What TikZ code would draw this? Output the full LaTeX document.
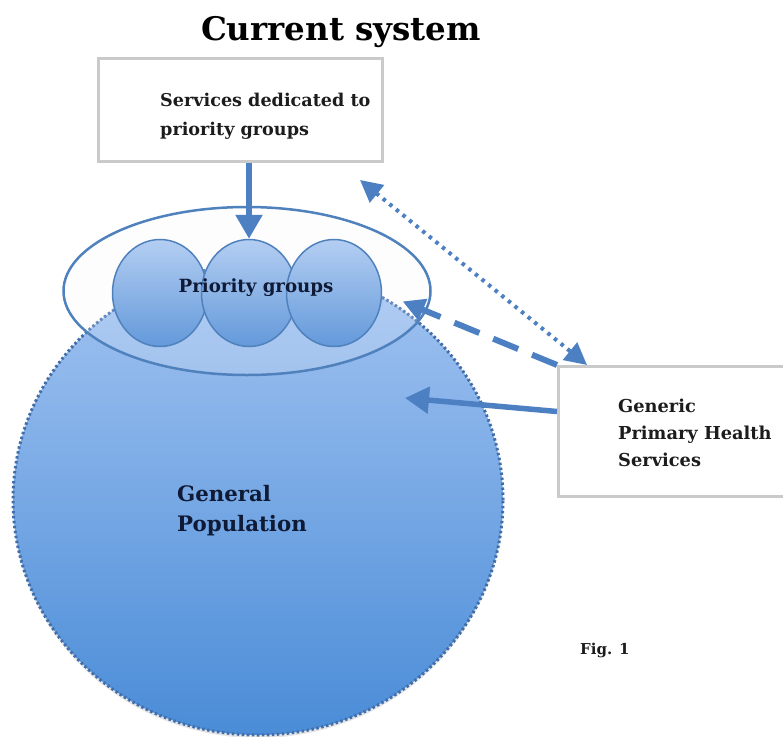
\documentclass[tikz,border=0pt]{standalone}
\usepackage{fontspec}
\setmainfont{DejaVu Serif}
\usepackage{tikz}
\usetikzlibrary{arrows.meta,shapes.geometric,shadows}
\usepackage{xcolor}
\definecolor{lineblue}{HTML}{4F81BD}
\definecolor{arrowblue}{HTML}{4C80C2}
\definecolor{boxgray}{HTML}{CACACA}
\definecolor{grptop}{HTML}{B4CEF2}
\definecolor{grpbot}{HTML}{6399DA}
\definecolor{poptop}{HTML}{A3C4F2}
\definecolor{popbot}{HTML}{4A8CD7}
\definecolor{popedge}{HTML}{416EAA}
\definecolor{ringfill}{HTML}{F4F6FA}
\definecolor{navy}{HTML}{0E1A36}
\definecolor{textdark}{HTML}{1C1C1C}

\begin{document}
\begin{tikzpicture}[x=1pt, y=-1pt,
    box/.style={rectangle, draw=boxgray, line width=3pt, fill=white, anchor=north west, inner sep=0pt,
      drop shadow={shadow xshift=1pt, shadow yshift=-1.5pt, opacity=0.18}},
    grp/.style={ellipse, draw=lineblue, line width=1.5pt, top color=grptop, bottom color=grpbot,
      minimum width=95pt, minimum height=107pt, inner sep=0pt},
    txt/.style={font=\fontsize{17.6}{29}\selectfont\bfseries, text=textdark, align=left, inner sep=0pt},
    arr/.style={draw=arrowblue, line width=5.5pt, -{Triangle[length=24pt,width=26pt]}},
    dasharr/.style={draw=arrowblue, line width=6pt, dash pattern=on 27pt off 15pt, -{Triangle[length=22pt,width=22pt]}},
    dotarr/.style={draw=arrowblue, line width=4pt, dash pattern=on 3.5pt off 5pt,
      {Triangle[length=22pt,width=22pt]}-{Triangle[length=22pt,width=22pt]}}]

  \useasboundingbox (0,0) rectangle (783,736);

  \node[ellipse, minimum width=490pt, minimum height=470pt, inner sep=0pt, top color=poptop, bottom color=popbot,
    draw=popedge, line width=3pt, dash pattern=on 2.5pt off 2.5pt,
    drop shadow={shadow xshift=0pt, shadow yshift=-3pt, opacity=0.2}] (pop) at (258,500) {};
  \node[ellipse, minimum width=367pt, minimum height=168pt, inner sep=0pt, draw=lineblue, line width=2.5pt,
    fill=ringfill, fill opacity=0.2] (ring) at (247,291) {};

  \node[grp] (pg1) at (160,293) {};
  \node[grp] (pg2) at (249,293) {};
  \node[grp] (pg3) at (334,293) {};
  \node[txt, font=\fontsize{18.2}{22}\selectfont\bfseries, text=navy, anchor=base] (pglabel) at (256,292) {Priority groups};

  \node[txt, font=\fontsize{32.5}{38}\selectfont\bfseries, text=black, anchor=base] (title) at (341,40) {Current system};

  \node[box, minimum width=284pt, minimum height=103pt] (svc) at (97,57) {};
  \node[txt, anchor=north west] (svctext) at (160,93) {Services dedicated to\\priority groups};

  \node[box, minimum width=260pt, minimum height=130pt] (gph) at (557,365) {};
  \node[txt, font=\fontsize{17.8}{27}\selectfont\bfseries, anchor=north west] (gphtext) at (618,399) {Generic\\Primary Health\\Services};

  \node[txt, font=\fontsize{21.3}{30}\selectfont\bfseries, text=navy, anchor=north west] (poptext) at (177,485) {General\\Population};

  \node[txt, font=\fontsize{15}{18}\selectfont\bfseries, anchor=base west] (fig) at (580,654) {Fig. 1};

  \coordinate (popin) at (405,398);
  \draw[arr] (svc.south -| pg2.north) -- (pg2.north);
  \draw[arr] ([yshift=20pt]gph.west) -- (popin);
  \draw[dasharr, shorten >=22pt] (gph.north west) -- (pg3.east);
  \draw[dotarr] ([xshift=-24pt,yshift=-17pt]svc.south east) -- ([xshift=30pt]gph.north west);
\end{tikzpicture}
\end{document}
